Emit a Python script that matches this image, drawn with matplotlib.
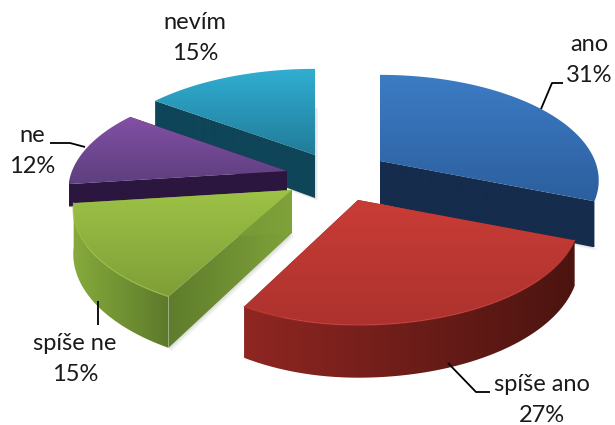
import numpy as np
import matplotlib
matplotlib.use("Agg")
import matplotlib.pyplot as plt
from matplotlib.patches import Polygon
from matplotlib.colors import to_rgb

categories = ["ano", "spíše ano", "spíše ne", "ne", "nevím"]
values = [31, 27, 15, 12, 15]

# apex of every exploded slice, in pixels
apex = [(380, 161), (358, 200), (292, 190), (287, 171), (315, 155)]
top_col = [("#3c7cc4", "#2c5f9f"), ("#c93c36", "#ad322e"), ("#9dc246", "#7f9e38"),
           ("#8350a6", "#5d3f7e"), ("#30aed2", "#227c9a")]
side_col = [("#152c4f", "#142a48"), ("#8f2622", "#4c1410"), ("#86aa3c", "#5d7a2b"),
            ("#2c173f", "#2a1640"), ("#0f4659", "#10465a")]
cut_col = [("#152c4d", "#152c4d"), ("#6a1c18", "#6a1c18"), ("#5f7d2c", "#7fa23a"),
           ("#2b163f", "#2b163f"), ("#0f4558", "#0f4558")]
rx_left = [215, 198, 215, 215, 219]
rx_right = [215, 217, 215, 215, 215]
wall_h = [43, 43, 43, 22, 43]
outer_wall = [False, True, True, False, False]

RY, P = 102, 0.184

plt.rcParams["font.family"] = ["Lato", "DejaVu Sans"]
fig = plt.figure(figsize=(6.15, 4.25), dpi=100)
ax = fig.add_axes([0, 0, 1, 1])
z = [1]


def nextz():
    z[0] += 1
    return z[0]


def project(a, i):
    # a in degrees clockwise from north, returns top and bottom edge of the disc
    s, c = np.sin(np.radians(a)), np.cos(np.radians(a))
    w = 1 + P * c
    x = apex[i][0] + np.where(s < 0, rx_left[i], rx_right[i]) * s / w
    y = apex[i][1] - RY * c / w
    return x, y, y + wall_h[i] / w


def gradfill(pts, c1, c2, vertical=True):
    pts = np.array(pts)
    t = np.linspace(0, 1, 64)
    rgb = np.outer(1 - t, to_rgb(c1)) + np.outer(t, to_rgb(c2))
    img = rgb[:, None, :] if vertical else rgb[None, :, :]
    ext = (pts[:, 0].min(), pts[:, 0].max(), pts[:, 1].max(), pts[:, 1].min())
    im = ax.imshow(img, extent=ext, aspect="auto", interpolation="bilinear",
                   origin="upper", zorder=nextz())
    patch = Polygon(pts, closed=True, transform=ax.transData, fc="none", ec="none")
    ax.add_patch(patch)
    im.set_clip_path(patch)


def draw_slice(i, a0, a1):
    ox, oy = apex[i]
    h = wall_h[i]
    a = np.linspace(a0, a1, 120)
    x, y, yb = project(a, i)
    # soft shadow
    for d, al in ((3, 0.10), (1.5, 0.15)):
        sx = np.r_[ox, x[0], x[-1], ox] + d
        sy = np.r_[oy + h, yb[0], yb[-1], oy + h] + d
        ax.fill(sx, sy, color="#808080", alpha=al, lw=0, zorder=nextz())
    # cut faces
    for j in (0, -1):
        gradfill([(ox, oy), (x[j], y[j]), (x[j], yb[j]), (ox, oy + h)],
                 cut_col[i][0], cut_col[i][1], vertical=False)
    # outer wall
    if outer_wall[i]:
        gradfill(np.c_[np.r_[x, x[::-1]], np.r_[y, yb[::-1]]],
                 side_col[i][0], side_col[i][1], vertical=False)
    # top surface
    gradfill(np.c_[np.r_[ox, x], np.r_[oy, y]], top_col[i][0], top_col[i][1])
    # thin lighter rim where the wall is seen
    if outer_wall[i]:
        ax.plot(x, y, color=top_col[i][0], lw=1, alpha=0.7, zorder=nextz())


edges = np.r_[0, np.cumsum(values)] * 360 / sum(values)
# back to front
for i in (4, 3, 0, 2, 1):
    draw_slice(i, edges[i], edges[i + 1])

ax.set_xlim(0, 615)
ax.set_ylim(425, 0)
ax.axis("off")

label_pos = [(589, 60), (542, 400), (75, 359), (32, 151), (195, 38)]
for name, v, (lx, ly) in zip(categories, values, label_pos):
    ax.text(lx, ly, f"{name}\n{v}%", ha="center", va="center", fontsize=17,
            color="#1a1a1a", linespacing=1.6, zorder=nextz())

# leader lines
for lx, ly in (([541, 552, 563], [109, 83, 83]), ([50, 70, 85], [143, 143, 147]),
               ([98, 98], [301, 325]), ([448, 476, 490], [363, 392, 392])):
    ax.plot(lx, ly, color="black", lw=1.3, solid_capstyle="butt", zorder=nextz())

fig.savefig("out.png", dpi=100)
